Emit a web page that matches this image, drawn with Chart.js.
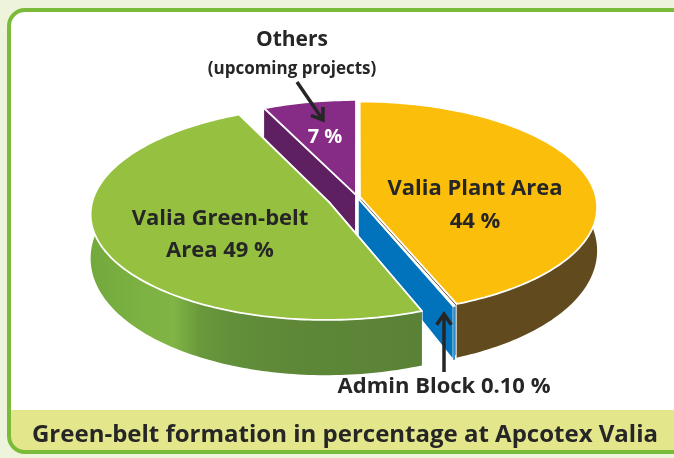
<!DOCTYPE html>
<html>
<head>
<meta charset="utf-8">
<script src="https://cdn.jsdelivr.net/npm/chart.js"></script>
<style>
  html, body { margin: 0; padding: 0; background: #eef3dc; }
  #pieChart { display: block; }
</style>
</head>
<body>
<canvas id="pieChart" width="674" height="458"></canvas>
<script>
// data (clockwise from 12 o'clock)
const categories = ['Valia Plant Area', 'Admin Block', 'Valia Green-belt Area', 'Others (upcoming projects)'];
const shares = [44, 0.1, 49, 7];
const shareText = ['44 %', '0.10 %', '49 %', '7 %'];
const caption = 'Green-belt formation in percentage at Apcotex Valia';

const TILT = 0.444;     // vertical squash of the disc
const PERSP = 0.1;      // front a bit bigger than back
const DEPTH = 42;       // thickness at the centre
const DEPTH_SLOPE = 0.3;
const FONT = '"Open Sans", "Noto Sans", sans-serif';
const INK = '#262626';

const topColors = ['#fbbe0a', '#0071bf', '#96c140', '#862c86'];
const sideColors = ['#614a1d', '#0173bd', 'grad', '#5e2060'];

function project(cx, cy, R, u, v, down) {
  const k = 1 / (1 - PERSP * v / R);
  const d = down ? DEPTH * (1 + DEPTH_SLOPE * v / R) : 0;
  return [cx + u * k, cy + TILT * v * k + d];
}

function poly(ctx, pts) {
  ctx.beginPath();
  pts.forEach((p, k) => k ? ctx.lineTo(p[0], p[1]) : ctx.moveTo(p[0], p[1]));
  ctx.closePath();
}

function drawSlice(ctx, s) {
  const R = s.outerRadius;
  const span = s.endAngle - s.startAngle;
  const n = Math.max(2, Math.ceil(span / 0.02));
  const rim = [];
  for (let j = 0; j <= n; j++) {
    const a = s.startAngle + span * j / n;
    rim.push([s.ou + R * Math.cos(a), s.ov + R * Math.sin(a)]);
  }
  const apex = [s.ou, s.ov];
  const P = (q, down) => project(s.x, s.y, R, q[0], q[1], down);
  const topPts = rim.map(q => P(q, false));
  const botPts = rim.map(q => P(q, true));

  let side = sideColors[s.i];
  if (side === 'grad') {
    const xs = topPts.map(p => p[0]);
    const x0 = Math.min(...xs), x1 = Math.max(...xs);
    const g = ctx.createLinearGradient(x0, 0, x1, 0);
    g.addColorStop(0, '#73a93d');
    g.addColorStop(0.15, '#7cb242');
    g.addColorStop(0.25, '#80b545');
    g.addColorStop(0.33, '#6a983c');
    g.addColorStop(0.42, '#62903a');
    g.addColorStop(0.6, '#5e8838');
    g.addColorStop(1, '#5a8236');
    side = g;
  }

  ctx.lineJoin = 'round';
  // radial walls
  [rim[0], rim[n]].forEach(e => {
    poly(ctx, [P(apex, false), P(e, false), P(e, true), P(apex, true)]);
    ctx.fillStyle = side;
    ctx.fill();
    ctx.strokeStyle = '#ffffff';
    ctx.lineWidth = 1.3;
    ctx.stroke();
  });
  // outer wall
  poly(ctx, topPts.concat(botPts.slice().reverse()));
  ctx.fillStyle = side;
  ctx.fill();
  // top face
  poly(ctx, [P(apex, false)].concat(topPts));
  ctx.fillStyle = topColors[s.i];
  ctx.fill();
  ctx.strokeStyle = '#ffffff';
  ctx.lineWidth = 1.8;
  ctx.stroke();
}

const framePlugin = {
  id: 'frame',
  beforeDraw(chart) {
    const ctx = chart.ctx;
    ctx.save();
    ctx.fillStyle = '#eef3dc';
    ctx.fillRect(0, 0, chart.width, chart.height);
    ctx.beginPath();
    ctx.roundRect(9, 10, 690, 442, 16);
    ctx.fillStyle = '#ffffff';
    ctx.fill();
    ctx.save();
    ctx.clip();
    ctx.fillStyle = '#e3e68b';
    ctx.fillRect(0, 410, chart.width, 60);
    ctx.restore();
    ctx.strokeStyle = '#7bbb3a';
    ctx.lineWidth = 4;
    ctx.stroke();
    ctx.restore();
  }
};

const pie3dPlugin = {
  id: 'pie3d',
  beforeDatasetsDraw(chart) {
    const ctx = chart.ctx;
    const meta = chart.getDatasetMeta(0);
    const slices = meta.data.map((arc, i) => {
      const p = arc.getProps(['x', 'y', 'startAngle', 'endAngle', 'outerRadius'], true);
      const off = arc.options.offset || 0;
      const mid = (p.startAngle + p.endAngle) / 2;
      return Object.assign({ i: i, ou: Math.cos(mid) * off, ov: Math.sin(mid) * off }, p);
    });
    // back to front
    slices.sort((a, b) => a.ov - b.ov);
    ctx.save();
    slices.forEach(s => drawSlice(ctx, s));
    ctx.restore();
    return false;
  }
};

function arrow(ctx, x0, y0, x1, y1) {
  const ang = Math.atan2(y1 - y0, x1 - x0);
  const L = 13, w = 0.6;
  ctx.beginPath();
  ctx.moveTo(x0, y0);
  ctx.lineTo(x1, y1);
  ctx.moveTo(x1 - L * Math.cos(ang - w), y1 - L * Math.sin(ang - w));
  ctx.lineTo(x1, y1);
  ctx.lineTo(x1 - L * Math.cos(ang + w), y1 - L * Math.sin(ang + w));
  ctx.stroke();
}

const labelPlugin = {
  id: 'labels',
  afterDraw(chart) {
    const ctx = chart.ctx;
    ctx.save();
    ctx.textAlign = 'center';
    ctx.textBaseline = 'middle';
    ctx.fillStyle = INK;

    ctx.font = 'bold 22px ' + FONT;
    ctx.fillText('Valia Green-belt', 220, 219);
    ctx.fillText('Area ' + shareText[2], 220, 251);
    ctx.fillText(categories[0], 475, 189);
    ctx.fillText(shareText[0], 475, 222);

    ctx.fillStyle = '#ffffff';
    ctx.font = 'bold 20px ' + FONT;
    ctx.fillText(shareText[3], 325, 137);

    ctx.fillStyle = INK;
    ctx.font = 'bold 21px ' + FONT;
    ctx.fillText('Others', 292, 40);
    ctx.font = 'bold 17px ' + FONT;
    ctx.fillText('(upcoming projects)', 292, 69);
    ctx.font = 'bold 22px ' + FONT;
    ctx.fillText(categories[1] + ' ' + shareText[1], 444, 387);

    ctx.font = 'bold 24px ' + FONT;
    ctx.fillText(caption, 345, 435);

    ctx.strokeStyle = INK;
    ctx.lineWidth = 3.5;
    ctx.lineCap = 'butt';
    arrow(ctx, 297, 82, 323, 120);
    arrow(ctx, 444, 372, 444, 314);
    ctx.restore();
  }
};

new Chart(document.getElementById('pieChart'), {
  type: 'pie',
  data: {
    labels: categories,
    datasets: [{
      data: shares,
      backgroundColor: topColors,
      offset: [3, 3, 30, 5],
      radius: 236,
      borderWidth: 0
    }]
  },
  options: {
    responsive: false,
    animation: false,
    events: [],
    layout: { padding: { left: 40, right: 0, top: 0, bottom: 64 } },
    plugins: { legend: { display: false }, tooltip: { enabled: false } }
  },
  plugins: [framePlugin, pie3dPlugin, labelPlugin]
});
</script>
</body>
</html>
